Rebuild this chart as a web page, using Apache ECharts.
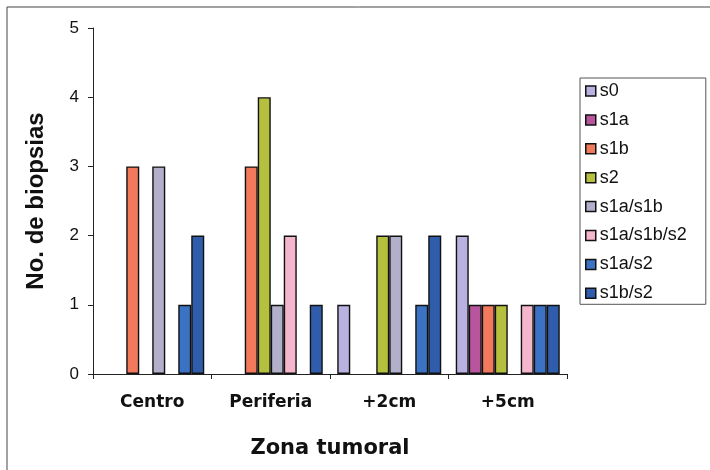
<!DOCTYPE html>
<html>
<head>
<meta charset="utf-8">
<script src="https://cdn.jsdelivr.net/npm/echarts@6/dist/echarts.min.js"></script>
<style>
  html, body { margin: 0; padding: 0; background: #fff; }
  #chart { width: 710px; height: 470px; }
</style>
</head>
<body>
<div id="chart"></div>
<script>
// Zonas tumorales (eje X)
const categories = ['Centro', 'Periferia', '+2cm', '+5cm'];

// Número de biopsias por estadio en cada zona
const s0       = [0, 0, 1, 2];
const s1a      = [0, 0, 0, 1];
const s1b      = [3, 3, 0, 1];
const s2       = [0, 4, 2, 1];
const s1a_s1b  = [3, 1, 2, 0];
const s1a_s1b_s2 = [0, 2, 0, 1];
const s1a_s2   = [1, 0, 1, 1];
const s1b_s2   = [2, 1, 2, 1];

const yTicks = [0, 1, 2, 3, 4, 5];

const seriesDefs = [
  { name: 's0',         data: s0,         color: '#b9b2e0' },
  { name: 's1a',        data: s1a,        color: '#b8559c' },
  { name: 's1b',        data: s1b,        color: '#f27a5c' },
  { name: 's2',         data: s2,         color: '#b5c03e' },
  { name: 's1a/s1b',    data: s1a_s1b,    color: '#b1afca' },
  { name: 's1a/s1b/s2', data: s1a_s1b_s2, color: '#f4b6cd' },
  { name: 's1a/s2',     data: s1a_s2,     color: '#3b72c4' },
  { name: 's1b/s2',     data: s1b_s2,     color: '#2f5dac' }
];

const chart = echarts.init(document.getElementById('chart'), null, { renderer: 'canvas' });

const option = {
  backgroundColor: '#ffffff',
  animation: false,
  grid: { left: 93, right: 143, top: 28, bottom: 96 },
  legend: {
    orient: 'vertical',
    left: 580,
    top: 78,
    padding: [4, 19, 2, 5],
    itemGap: 10.9,
    itemWidth: 10,
    itemHeight: 10,
    borderColor: '#555',
    borderWidth: 1,
    icon: 'rect',
    textStyle: { fontFamily: 'Liberation Sans, Arial, sans-serif', fontSize: 18, color: '#111', padding: [0, 0, 0, -1] },
    itemStyle: { borderColor: '#111', borderWidth: 1.5 },
    data: seriesDefs.map(s => s.name)
  },
  xAxis: {
    type: 'category',
    data: categories,
    name: 'Zona tumoral',
    nameLocation: 'middle',
    nameGap: 64,
    nameTextStyle: { fontFamily: 'DejaVu Sans, sans-serif', fontWeight: 'bold', fontSize: 21, color: '#111' },
    axisLine: { lineStyle: { color: '#222', width: 1 } },
    axisTick: { show: true, length: 5, lineStyle: { color: '#222' } },
    axisLabel: {
      margin: 20,
      fontFamily: 'DejaVu Sans, sans-serif',
      fontWeight: 'bold',
      fontSize: 17,
      color: '#111'
    }
  },
  yAxis: {
    type: 'value',
    min: 0,
    max: yTicks[yTicks.length - 1],
    interval: 1,
    name: 'No. de biopsias',
    nameLocation: 'middle',
    nameGap: 45,
    nameRotate: 90,
    nameTextStyle: { fontFamily: 'Liberation Sans, Arial, sans-serif', fontWeight: 'bold', fontSize: 24, color: '#111' },
    splitLine: { show: false },
    axisLine: { show: true, lineStyle: { color: '#222', width: 1 } },
    axisTick: { show: true, length: 5, lineStyle: { color: '#222' } },
    axisLabel: {
      margin: 14,
      fontFamily: 'Liberation Sans, Arial, sans-serif',
      fontSize: 17,
      color: '#111'
    }
  },
  series: seriesDefs.map(s => ({
    name: s.name,
    type: 'bar',
    // empty cells (zero biopsies) draw no bar
    data: s.data.map(v => (v === 0 ? '-' : v)),
    barWidth: 13,
    barGap: '0%',
    itemStyle: { color: s.color, borderColor: '#111', borderWidth: 1.4 }
  })),
  graphic: [
    {
      type: 'polyline',
      shape: { points: [[7, 470], [7, 7], [710, 7]] },
      style: { stroke: '#444', lineWidth: 1, fill: null },
      silent: true
    }
  ]
};

chart.setOption(option);
</script>
</body>
</html>
